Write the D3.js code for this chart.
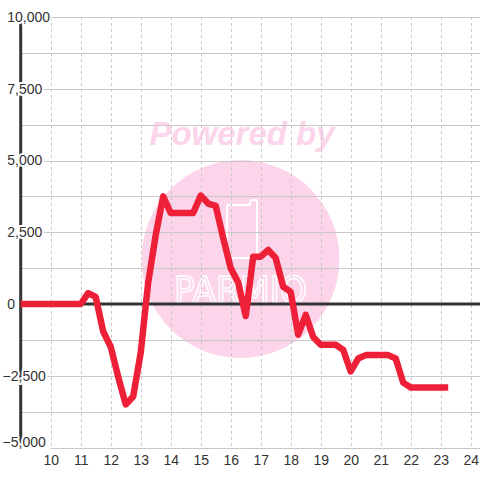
<!DOCTYPE html>
<html>
<head>
<meta charset="utf-8">
<script src="https://cdn.jsdelivr.net/npm/d3@7/dist/d3.min.js"></script>
<style>
  html, body { margin: 0; padding: 0; background: #fff; }
  svg { display: block; font-family: "Liberation Sans", Arial, sans-serif; }
</style>
</head>
<body>
<svg id="chart" width="480" height="480"></svg>
<script>
// ---- data ----
const hours = [9, 9.25, 9.5, 9.75, 10, 10.25, 10.5, 10.75, 11, 11.25, 11.5, 11.75,
  12, 12.25, 12.5, 12.75, 13, 13.25, 13.5, 13.75, 14, 14.25, 14.5, 14.75,
  15, 15.25, 15.5, 15.75, 16, 16.25, 16.5, 16.75, 17, 17.25, 17.5, 17.75,
  18, 18.25, 18.5, 18.75, 19, 19.25, 19.5, 19.75, 20, 20.25, 20.5, 20.75,
  21, 21.25, 21.5, 21.75, 22, 22.25, 22.5, 22.75, 23, 23.25];
const values = [0, 0, 0, 0, 0, 0, 0, 0, 0, 380, 250, -960,
  -1490, -2540, -3500, -3220, -1700, 750, 2400, 3750, 3170, 3170, 3170, 3170,
  3780, 3500, 3420, 2300, 1250, 750, -420, 1650, 1650, 1880, 1600, 600,
  420, -1070, -380, -1150, -1420, -1420, -1420, -1600, -2350, -1900, -1780, -1780,
  -1780, -1780, -1900, -2740, -2910, -2910, -2910, -2910, -2910, -2910];
const xTicks = [10, 11, 12, 13, 14, 15, 16, 17, 18, 19, 20, 21, 22, 23, 24];
const yGrid = [-5000, -3750, -2500, -1250, 0, 1250, 2500, 3750, 5000, 6250, 7500, 8750, 10000];
const yLabels = [-5000, -2500, 0, 2500, 5000, 7500, 10000];
const watermarkText = "Powered by";
const logoText = "PARMIO";

// ---- scales ----
const W = 480, H = 480;
const x = d3.scaleLinear().domain([9, 24]).range([20.7, 470.7]);
const y = d3.scaleLinear().domain([-5000, 10000]).range([447.5, 17]);
const svg = d3.select("#chart");

// ---- watermark ----
const wm = svg.append("g");
wm.append("circle").attr("cx", 240.5).attr("cy", 259).attr("r", 99).attr("fill", "#fcd5ea");
wm.append("text").attr("x", 242).attr("y", 145).attr("text-anchor", "middle")
  .attr("font-size", 33).attr("font-weight", "bold").attr("font-style", "italic")
  .attr("fill", "#fcd5ea").text(watermarkText);
wm.append("path")
  .attr("d", "M229,205 L250,205 L250,202 Q250,200 252,200 L255,200 Q257,200 257,202 L257,256 Q257,258 255,258 L229,258 Q227,258 227,256 L227,207 Q227,205 229,205 Z")
  .attr("fill", "none").attr("stroke", "#fff").attr("stroke-width", 2);
wm.append("text").attr("x", 174).attr("y", 303)
  .attr("font-size", 38).attr("font-family", "'DejaVu Sans', sans-serif")
  .attr("textLength", 133).attr("lengthAdjust", "spacingAndGlyphs")
  .attr("fill", "none").attr("stroke", "#fff").attr("stroke-width", 1.6).text(logoText);

// ---- grid ----
const grid = svg.append("g");
grid.selectAll("line.h").data(yGrid).join("line").attr("class", "h")
  .attr("x1", d => d === -5000 ? x(10) : 20).attr("x2", W)
  .attr("y1", d => Math.round(y(d)) + 0.5).attr("y2", d => Math.round(y(d)) + 0.5)
  .attr("stroke", "#c8c8c8").attr("stroke-width", 1);
grid.selectAll("line.v").data(xTicks).join("line").attr("class", "v")
  .attr("x1", d => Math.round(x(d)) + 0.5).attr("x2", d => Math.round(x(d)) + 0.5)
  .attr("y1", y(10000)).attr("y2", y(-5000))
  .attr("stroke", "#c8c8c8").attr("stroke-width", 1).attr("stroke-dasharray", "3,3");

// ---- y axis line & zero line ----
svg.append("line").attr("x1", x(9)).attr("x2", x(9)).attr("y1", y(10000)).attr("y2", y(-5000))
  .attr("stroke", "#333").attr("stroke-width", 3);
svg.append("line").attr("x1", x(9)).attr("x2", W).attr("y1", y(0)).attr("y2", y(0))
  .attr("stroke", "#333").attr("stroke-width", 3);

// ---- y labels via axis ----
const fmt = d3.format(",");
const yAxis = svg.append("g").attr("transform", "translate(0,0)")
  .call(d3.axisLeft(y).tickValues(yLabels).tickSize(0).tickFormat(fmt));
yAxis.select(".domain").remove();
yAxis.selectAll("text")
  .attr("x", d => d < 0 ? 2.6 : 7.3).attr("text-anchor", "start")
  .attr("dy", d => d === -5000 ? "-0.05em" : "0.32em")
  .attr("font-size", 14).attr("fill", "#333")
  .attr("font-family", "'Liberation Sans', Arial, sans-serif")
  .attr("stroke", "#fff").attr("stroke-width", 4).attr("paint-order", "stroke")
  .attr("stroke-linejoin", "round");

// ---- x labels via axis ----
const xAxis = svg.append("g").attr("transform", `translate(0,${y(-5000)})`)
  .call(d3.axisBottom(x).tickValues(xTicks).tickSize(0).tickFormat(d3.format("d")));
xAxis.select(".domain").remove();
xAxis.selectAll("text").attr("y", 8).attr("dy", "0.71em")
  .attr("font-size", 14).attr("fill", "#333")
  .attr("font-family", "'Liberation Sans', Arial, sans-serif");

// ---- line ----
const pts = hours.map((h, i) => [h, values[i]]);
svg.append("path").datum(pts)
  .attr("d", d3.line().x(d => x(d[0])).y(d => y(d[1])))
  .attr("fill", "none").attr("stroke", "#ee2038").attr("stroke-width", 6.5)
  .attr("stroke-linejoin", "round").attr("stroke-linecap", "butt");
</script>
</body>
</html>
